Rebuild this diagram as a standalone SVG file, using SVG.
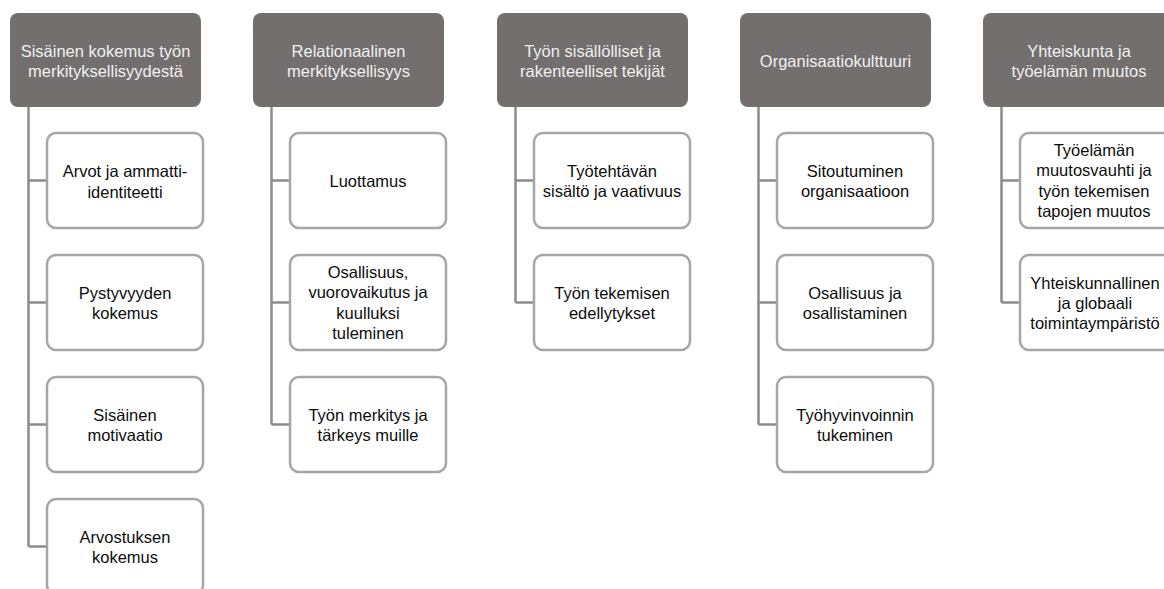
<svg xmlns="http://www.w3.org/2000/svg" width="1164" height="589" viewBox="0 0 1164 589">
<style>
.hd{fill:#736f6e}
.hd-t{fill:#f0f0f0;font-family:"Liberation Sans",Arial,sans-serif;font-size:16.5px;text-anchor:middle}
.ch{fill:#fff;stroke:#a6a6a6;stroke-width:2.5}
.ch-t{fill:#0d0d0d;font-family:"Liberation Sans",Arial,sans-serif;font-size:16.5px;text-anchor:middle}
.cn{fill:none;stroke:#8c8c8c;stroke-width:2.5}
</style>
<rect width="1164" height="589" fill="#fff"/>
<g id="connectors">
<path class="cn" d="M28.5 107V546.5M28.5 180.5H47M28.5 302.5H47M28.5 424.5H47M28.5 546.5H47"/>
<path class="cn" d="M271.5 107V424.5M271.5 180.5H290M271.5 302.5H290M271.5 424.5H290"/>
<path class="cn" d="M515.5 107V302.5M515.5 180.5H534M515.5 302.5H534"/>
<path class="cn" d="M758.5 107V424.5M758.5 180.5H777M758.5 302.5H777M758.5 424.5H777"/>
<path class="cn" d="M1001.5 107V302.5M1001.5 180.5H1020M1001.5 302.5H1020"/>
</g>
<g id="h1"><rect class="hd" x="10" y="13" width="191" height="94" rx="8"/><text class="hd-t" x="105.5" y="56.5">Sisäinen kokemus työn</text><text class="hd-t" x="105.5" y="76.5">merkityksellisyydestä</text></g>
<g id="h2"><rect class="hd" x="253" y="13" width="191" height="94" rx="8"/><text class="hd-t" x="348.5" y="56.5">Relationaalinen</text><text class="hd-t" x="348.5" y="76.5">merkityksellisyys</text></g>
<g id="h3"><rect class="hd" x="497" y="13" width="191" height="94" rx="8"/><text class="hd-t" x="592.5" y="56.5">Työn sisällölliset ja</text><text class="hd-t" x="592.5" y="76.5">rakenteelliset tekijät</text></g>
<g id="h4"><rect class="hd" x="740" y="13" width="191" height="94" rx="8"/><text class="hd-t" x="835.5" y="66.5">Organisaatiokulttuuri</text></g>
<g id="h5"><rect class="hd" x="983" y="13" width="191" height="94" rx="8"/><text class="hd-t" x="1079" y="56.5">Yhteiskunta ja</text><text class="hd-t" x="1079" y="76.5">työelämän muutos</text></g>

<g id="c1a"><rect class="ch" x="47" y="133" width="156" height="95" rx="9"/><text class="ch-t" x="125" y="177">Arvot ja ammatti-</text><text class="ch-t" x="125" y="197.5">identiteetti</text></g>
<g id="c1b"><rect class="ch" x="47" y="255" width="156" height="95" rx="9"/><text class="ch-t" x="125" y="298.75">Pystyvyyden</text><text class="ch-t" x="125" y="319.25">kokemus</text></g>
<g id="c1c"><rect class="ch" x="47" y="377" width="156" height="95" rx="9"/><text class="ch-t" x="125" y="420.75">Sisäinen</text><text class="ch-t" x="125" y="441.25">motivaatio</text></g>
<g id="c1d"><rect class="ch" x="47" y="499" width="156" height="95" rx="9"/><text class="ch-t" x="125" y="542.75">Arvostuksen</text><text class="ch-t" x="125" y="563.25">kokemus</text></g>

<g id="c2a"><rect class="ch" x="290" y="133" width="156" height="95" rx="9"/><text class="ch-t" x="368" y="187">Luottamus</text></g>
<g id="c2b"><rect class="ch" x="290" y="255" width="156" height="95" rx="9"/><text class="ch-t" x="368" y="277.75">Osallisuus,</text><text class="ch-t" x="368" y="298.25">vuorovaikutus ja</text><text class="ch-t" x="368" y="318.75">kuulluksi</text><text class="ch-t" x="368" y="339.25">tuleminen</text></g>
<g id="c2c"><rect class="ch" x="290" y="377" width="156" height="95" rx="9"/><text class="ch-t" x="368" y="420.75">Työn merkitys ja</text><text class="ch-t" x="368" y="441.25">tärkeys muille</text></g>

<g id="c3a"><rect class="ch" x="534" y="133" width="156" height="95" rx="9"/><text class="ch-t" x="612" y="176.75">Työtehtävän</text><text class="ch-t" x="612" y="197.25">sisältö ja vaativuus</text></g>
<g id="c3b"><rect class="ch" x="534" y="255" width="156" height="95" rx="9"/><text class="ch-t" x="612" y="298.75">Työn tekemisen</text><text class="ch-t" x="612" y="319.25">edellytykset</text></g>

<g id="c4a"><rect class="ch" x="777" y="133" width="156" height="95" rx="9"/><text class="ch-t" x="855" y="176.75">Sitoutuminen</text><text class="ch-t" x="855" y="197.25">organisaatioon</text></g>
<g id="c4b"><rect class="ch" x="777" y="255" width="156" height="95" rx="9"/><text class="ch-t" x="855" y="298.75">Osallisuus ja</text><text class="ch-t" x="855" y="319.25">osallistaminen</text></g>
<g id="c4c"><rect class="ch" x="777" y="377" width="156" height="95" rx="9"/><text class="ch-t" x="855" y="420.75">Työhyvinvoinnin</text><text class="ch-t" x="855" y="441.25">tukeminen</text></g>

<g id="c5a"><rect class="ch" x="1020" y="133" width="156" height="95" rx="9"/><text class="ch-t" x="1094" y="155.75">Työelämän</text><text class="ch-t" x="1094" y="176.25">muutosvauhti ja</text><text class="ch-t" x="1094" y="196.75">työn tekemisen</text><text class="ch-t" x="1094" y="217.25">tapojen muutos</text></g>
<g id="c5b"><rect class="ch" x="1020" y="255" width="156" height="95" rx="9"/><text class="ch-t" x="1095" y="288.5">Yhteiskunnallinen</text><text class="ch-t" x="1095" y="308.75">ja globaali</text><text class="ch-t" x="1095" y="329">toimintaympäristö</text></g>
</svg>
